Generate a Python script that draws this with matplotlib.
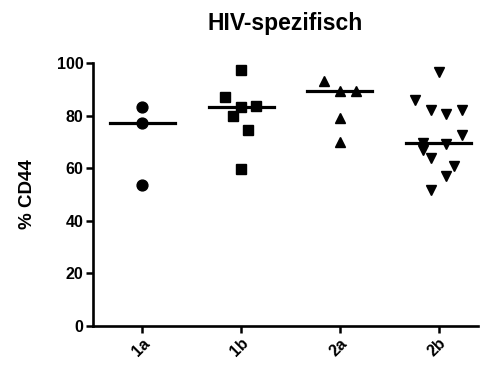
import numpy as np
import matplotlib
matplotlib.use('Agg')
import matplotlib.pyplot as plt

plt.rcParams['font.family'] = ['Liberation Sans', 'DejaVu Sans']
plt.rcParams['font.weight'] = 'bold'

# -- data
groups = ['1a', '1b', '2a', '2b']
vals_1a = [83.3, 77.2, 53.6]
vals_1b = [97.5, 87.1, 83.3, 83.5, 79.7, 74.7, 59.6]
vals_2a = [93.2, 89.4, 89.4, 79.1, 70.0]
vals_2b = [96.6, 86.1, 82.0, 80.5, 82.3, 72.6, 69.6, 67.1, 69.1, 64.0, 60.7, 56.9, 51.9]
# horizontal scatter of the points within a column
jit_1a = [0, 0, 0]
jit_1b = [0, -0.165, 0, 0.15, -0.08, 0.07, 0]
jit_2a = [-0.16, 0, 0.16, 0, 0]
jit_2b = [0, -0.24, -0.08, 0.08, 0.24, 0.24, -0.16, -0.16, 0.08, -0.08, 0.16, 0.08, -0.08]

fig = plt.figure(figsize=[4.8, 3.67], dpi=100)
ax = fig.add_axes([0.194, 0.112, 0.802, 0.716])

series = [(vals_1a, jit_1a, 'o'), (vals_1b, jit_1b, 's'),
          (vals_2a, jit_2a, '^'), (vals_2b, jit_2b, 'v')]
for i, (v, j, m) in enumerate(series):
    x = i + 1 + np.array(j)
    ax.plot(x, v, linestyle='none', marker=m, color='black', markersize=7.8)
    med = np.median(v)
    ax.plot([i + 1 - 0.33, i + 1 + 0.33], [med, med], color='black', lw=2.3)

ax.set_xlim(0.5, 4.4)
ax.set_ylim(0, 100)
ax.set_yticks([0, 20, 40, 60, 80, 100])
ax.set_xticks([1, 2, 3, 4])
ax.set_xticklabels(groups, rotation=45, ha='right', rotation_mode='anchor')
ax.tick_params(direction='out', length=5, width=1.8, labelsize=11.5, pad=2)
for s in ['top', 'right']:
    ax.spines[s].set_visible(False)
for s in ['left', 'bottom']:
    ax.spines[s].set_linewidth(1.9)

ax.set_ylabel('% CD44', fontsize=13.5, fontweight='bold', labelpad=15)
ax.set_title('HIV-spezifisch', fontsize=16.5, fontweight='bold', pad=24)

plt.savefig('out.png', dpi=100)
